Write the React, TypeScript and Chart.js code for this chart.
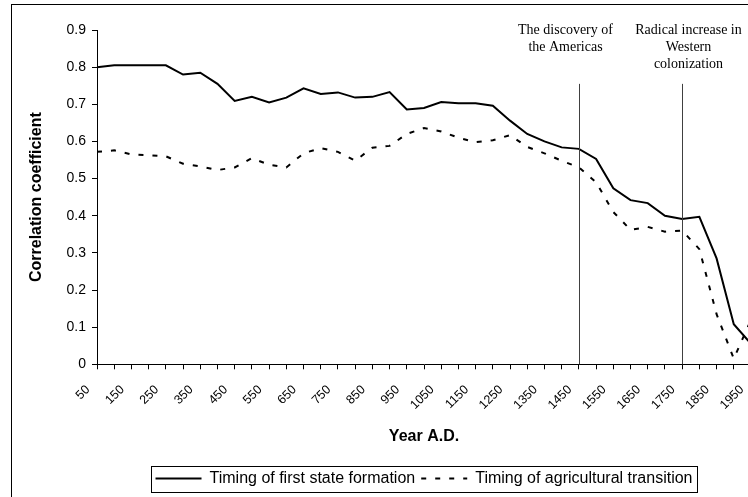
import React, { useEffect, useRef } from 'react';
import { Chart, registerables } from 'chart.js';

Chart.register(...registerables);

const years = [
  '50', '100', '150', '200', '250', '300', '350', '400', '450', '500',
  '550', '600', '650', '700', '750', '800', '850', '900', '950', '1000',
  '1050', '1100', '1150', '1200', '1250', '1300', '1350', '1400', '1450', '1500',
  '1550', '1600', '1650', '1700', '1750', '1800', '1850', '1900', '1950',
];

const stateFormation = [
  0.800, 0.805, 0.805, 0.805, 0.805, 0.780, 0.785, 0.755, 0.709, 0.720,
  0.705, 0.718, 0.743, 0.728, 0.732, 0.718, 0.720, 0.733, 0.686, 0.690,
  0.706, 0.703, 0.703, 0.696, 0.656, 0.620, 0.600, 0.584, 0.580, 0.553,
  0.474, 0.442, 0.434, 0.400, 0.391, 0.397, 0.285, 0.108, 0.055,
];

const agriculturalTransition = [
  0.572, 0.576, 0.565, 0.563, 0.560, 0.540, 0.533, 0.523, 0.530, 0.555,
  0.537, 0.530, 0.568, 0.582, 0.572, 0.548, 0.583, 0.588, 0.620, 0.636,
  0.627, 0.610, 0.598, 0.603, 0.617, 0.585, 0.568, 0.548, 0.530, 0.490,
  0.410, 0.362, 0.370, 0.357, 0.360, 0.310, 0.135, 0.015, 0.120,
];

const seriesNames = ['Timing of first state formation', 'Timing of agricultural transition'];

const yMin = 0;
const yMax = 0.9;
const yStep = 0.1;

const eventLines = [
  { category: '1450', top: 0.755, text: ['The discovery of', 'the Americas'], dx: -14 },
  { category: '1750', top: 0.755, text: ['Radical increase in', 'Western', 'colonization'], dx: 6 },
];

const eventPlugin = {
  id: 'eventLines',
  afterDatasetsDraw(chart: any) {
    const { ctx, scales } = chart;
    const xs = scales.x;
    const ys = scales.y;
    ctx.save();
    eventLines.forEach((ev) => {
      const idx = years.indexOf(ev.category);
      const x = Math.round(xs.getPixelForValue(idx)) + 0.5;
      const yTop = ys.getPixelForValue(ev.top);
      ctx.strokeStyle = '#404040';
      ctx.lineWidth = 1;
      ctx.setLineDash([]);
      ctx.beginPath();
      ctx.moveTo(x, yTop);
      ctx.lineTo(x, ys.bottom);
      ctx.stroke();
      ctx.fillStyle = '#000';
      ctx.font = '14px "Liberation Serif", "DejaVu Serif", serif';
      ctx.textAlign = 'center';
      ctx.textBaseline = 'middle';
      ev.text.forEach((line, k) => {
        ctx.fillText(line, x + ev.dx, 30 + k * 17);
      });
    });
    ctx.restore();
  },
};

const legendFramePlugin = {
  id: 'legendFrame',
  afterDraw(chart: any) {
    const lg = chart.legend;
    if (!lg || !lg.legendHitBoxes || !lg.legendHitBoxes.length) return;
    const hb = lg.legendHitBoxes;
    let l = Infinity, r = -Infinity, t = Infinity, b = -Infinity;
    hb.forEach((h: any) => {
      l = Math.min(l, h.left);
      r = Math.max(r, h.left + h.width);
      t = Math.min(t, h.top);
      b = Math.max(b, h.top + h.height);
    });
    const { ctx } = chart;
    ctx.save();
    ctx.strokeStyle = '#000';
    ctx.lineWidth = 1;
    ctx.setLineDash([]);
    ctx.strokeRect(Math.round(l - 5) + 0.5, Math.round(t - 5) + 0.5, Math.round(r - l + 9), Math.round(b - t + 10));
    ctx.restore();
  },
};

export default function App() {
  const canvasRef = useRef<HTMLCanvasElement | null>(null);

  useEffect(() => {
    const canvas = canvasRef.current;
    if (!canvas) return;
    const chart = new Chart(canvas, {
      type: 'line',
      data: {
        labels: years,
        datasets: [
          {
            label: seriesNames[0],
            data: stateFormation,
            borderColor: '#000',
            backgroundColor: '#000',
            borderWidth: 2,
            pointRadius: 0,
            tension: 0,
            fill: false,
          },
          {
            label: seriesNames[1],
            data: agriculturalTransition,
            borderColor: '#000',
            backgroundColor: '#000',
            borderWidth: 2,
            borderDash: [5, 9],
            pointRadius: 0,
            tension: 0,
            fill: false,
          },
        ],
      },
      options: {
        responsive: false,
        animation: false,
        devicePixelRatio: 1,
        layout: { padding: { left: 11, top: 30, right: 0, bottom: 0.5 } },
        plugins: {
          tooltip: { enabled: false },
          title: { display: false },
          legend: {
            display: true,
            position: 'bottom',
            fullSize: false,
            labels: {
              usePointStyle: true,
              pointStyle: 'line',
              pointStyleWidth: 46,
              padding: 6,
              color: '#000',
              font: { family: '"Liberation Sans", Arial, sans-serif', size: 16 },
              generateLabels: (ch: any) => {
                const base = (Chart.defaults as any).plugins.legend.labels.generateLabels(ch);
                return base.map((item: any, i: number) => ({
                  ...item,
                  pointStyle: 'line',
                  strokeStyle: '#000',
                  fillStyle: '#000',
                  lineWidth: 2,
                  lineDash: ch.data.datasets[i].borderDash || [],
                  lineDashOffset: 0,
                }));
              },
            },
          },
        },
        scales: {
          x: {
            type: 'category',
            offset: false,
            afterFit(scale: any) {
              scale.height = 100.2;
              scale.paddingLeft = 0;
              scale.paddingRight = 0;
            },
            grid: {
              display: true,
              drawOnChartArea: false,
              drawTicks: true,
              tickLength: 5,
              color: '#000',
              offset: false,
            },
            border: { display: true, color: '#000', width: 1 },
            ticks: {
              autoSkip: false,
              minRotation: 45,
              maxRotation: 45,
              padding: 13,
              labelOffset: -9,
              color: '#000',
              font: { family: '"Liberation Sans", Arial, sans-serif', size: 12.5 },
              callback: (_v: any, index: number) => (index % 2 === 0 ? years[index] : ''),
            },
            title: {
              display: true,
              text: 'Year A.D.',
              color: '#000',
              font: { family: '"Liberation Sans", Arial, sans-serif', size: 16, weight: 'bold' },
              padding: { top: 0, bottom: 17.9 },
            },
          },
          y: {
            type: 'linear',
            min: yMin,
            max: yMax,
            afterFit(scale: any) {
              scale.width = 86;
            },
            grid: {
              display: true,
              drawOnChartArea: false,
              drawTicks: true,
              tickLength: 5,
              color: '#000',
            },
            border: { display: true, color: '#000', width: 1 },
            ticks: {
              stepSize: yStep,
              padding: 6,
              color: '#000',
              font: { family: '"Liberation Sans", Arial, sans-serif', size: 14 },
              callback: (v: any) => (Number(v) === 0 ? '0' : Number(v).toFixed(1)),
            },
            title: {
              display: true,
              text: 'Correlation coefficient',
              color: '#000',
              font: { family: '"Liberation Sans", Arial, sans-serif', size: 16, weight: 'bold' },
              padding: { top: 16.4, bottom: 0 },
            },
          },
        },
      },
      plugins: [eventPlugin, legendFramePlugin],
    });
    return () => chart.destroy();
  }, []);

  return (
    <div
      style={{
        position: 'fixed',
        left: 0,
        top: 0,
        width: 748,
        height: 497,
        overflow: 'hidden',
        background: '#fff',
      }}
    >
      <div
        style={{
          position: 'absolute',
          left: 11,
          top: 4,
          width: 900,
          height: 700,
          border: '1px solid #000',
          boxSizing: 'border-box',
        }}
      />
      <canvas
        ref={canvasRef}
        width={751}
        height={497}
        style={{ position: 'absolute', left: 0, top: 0, width: 751, height: 497 }}
      />
    </div>
  );
}
